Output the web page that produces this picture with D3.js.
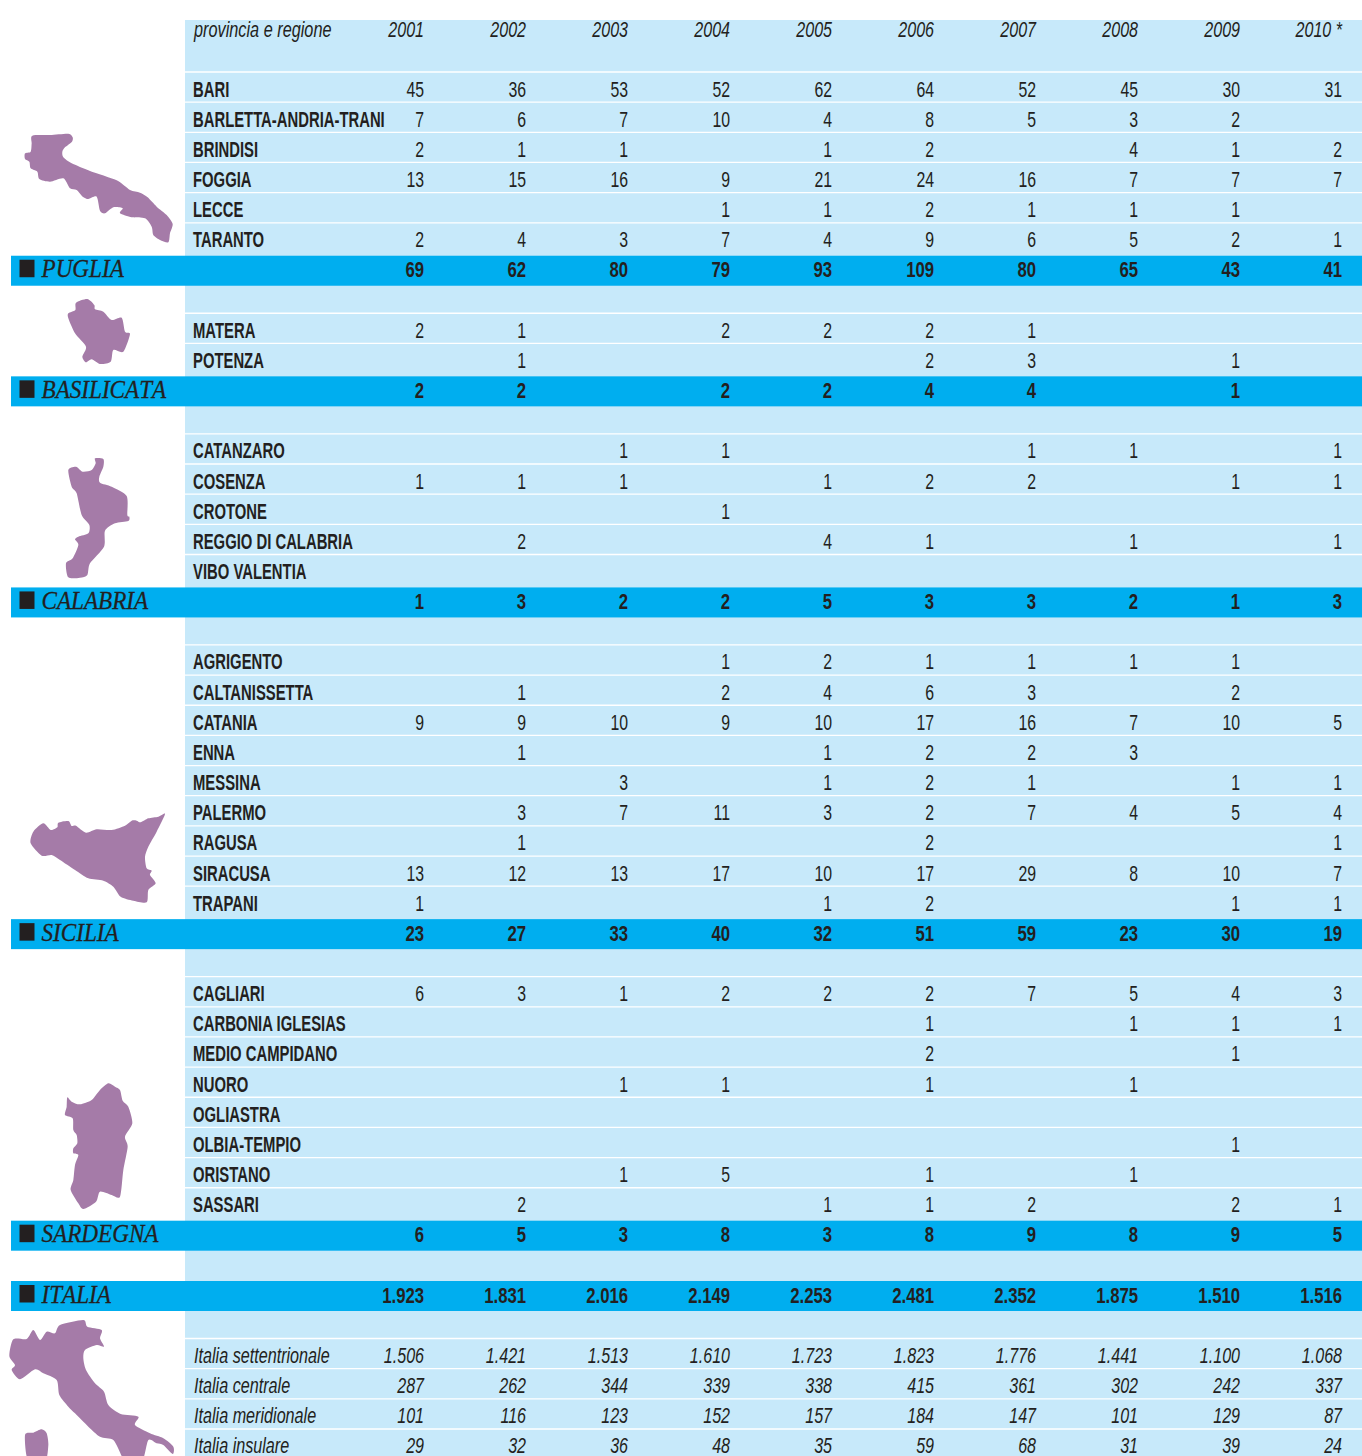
<!DOCTYPE html>
<html>
<head>
<meta charset="utf-8">
<title>Province e regioni</title>
<script src="https://cdnjs.cloudflare.com/ajax/libs/d3/7.8.5/d3.min.js"></script>
<style>
  html, body { margin: 0; padding: 0; background: #fff; }
  svg { display: block; }
  text { fill: #231f20; font-family: "Liberation Sans", Arial, sans-serif; font-size: 22px; }
  .band-label { font-family: "Liberation Serif", serif; font-style: italic; font-size: 26px; font-kerning: none; stroke: #231f20; stroke-width: 0.3px; }
</style>
</head>
<body>
<div class="chart"></div>
<script>
const _ = null;

//column headers
const years = ["2001", "2002", "2003", "2004", "2005", "2006", "2007", "2008", "2009", "2010 *"];
const headerLabel = "provincia e regione";

//Puglia
const pugliaNames = ["BARI", "BARLETTA-ANDRIA-TRANI", "BRINDISI", "FOGGIA", "LECCE", "TARANTO"];
const pugliaValues = [
  [45, 36, 53, 52, 62, 64, 52, 45, 30, 31],
  [7, 6, 7, 10, 4, 8, 5, 3, 2, _],
  [2, 1, 1, _, 1, 2, _, 4, 1, 2],
  [13, 15, 16, 9, 21, 24, 16, 7, 7, 7],
  [_, _, _, 1, 1, 2, 1, 1, 1, _],
  [2, 4, 3, 7, 4, 9, 6, 5, 2, 1]
];
const pugliaTotals = [69, 62, 80, 79, 93, 109, 80, 65, 43, 41];

//Basilicata
const basilicataNames = ["MATERA", "POTENZA"];
const basilicataValues = [
  [2, 1, _, 2, 2, 2, 1, _, _, _],
  [_, 1, _, _, _, 2, 3, _, 1, _]
];
const basilicataTotals = [2, 2, _, 2, 2, 4, 4, _, 1, _];

//Calabria
const calabriaNames = ["CATANZARO", "COSENZA", "CROTONE", "REGGIO DI CALABRIA", "VIBO VALENTIA"];
const calabriaValues = [
  [_, _, 1, 1, _, _, 1, 1, _, 1],
  [1, 1, 1, _, 1, 2, 2, _, 1, 1],
  [_, _, _, 1, _, _, _, _, _, _],
  [_, 2, _, _, 4, 1, _, 1, _, 1],
  [_, _, _, _, _, _, _, _, _, _]
];
const calabriaTotals = [1, 3, 2, 2, 5, 3, 3, 2, 1, 3];

//Sicilia
const siciliaNames = ["AGRIGENTO", "CALTANISSETTA", "CATANIA", "ENNA", "MESSINA", "PALERMO", "RAGUSA", "SIRACUSA", "TRAPANI"];
const siciliaValues = [
  [_, _, _, 1, 2, 1, 1, 1, 1, _],
  [_, 1, _, 2, 4, 6, 3, _, 2, _],
  [9, 9, 10, 9, 10, 17, 16, 7, 10, 5],
  [_, 1, _, _, 1, 2, 2, 3, _, _],
  [_, _, 3, _, 1, 2, 1, _, 1, 1],
  [_, 3, 7, 11, 3, 2, 7, 4, 5, 4],
  [_, 1, _, _, _, 2, _, _, _, 1],
  [13, 12, 13, 17, 10, 17, 29, 8, 10, 7],
  [1, _, _, _, 1, 2, _, _, 1, 1]
];
const siciliaTotals = [23, 27, 33, 40, 32, 51, 59, 23, 30, 19];

//Sardegna
const sardegnaNames = ["CAGLIARI", "CARBONIA IGLESIAS", "MEDIO CAMPIDANO", "NUORO", "OGLIASTRA", "OLBIA-TEMPIO", "ORISTANO", "SASSARI"];
const sardegnaValues = [
  [6, 3, 1, 2, 2, 2, 7, 5, 4, 3],
  [_, _, _, _, _, 1, _, 1, 1, 1],
  [_, _, _, _, _, 2, _, _, 1, _],
  [_, _, 1, 1, _, 1, _, 1, _, _],
  [_, _, _, _, _, _, _, _, _, _],
  [_, _, _, _, _, _, _, _, 1, _],
  [_, _, 1, 5, _, 1, _, 1, _, _],
  [_, 2, _, _, 1, 1, 2, _, 2, 1]
];
const sardegnaTotals = [6, 5, 3, 8, 3, 8, 9, 8, 9, 5];

//Italia
const italiaTotals = [1923, 1831, 2016, 2149, 2253, 2481, 2352, 1875, 1510, 1516];
const areaNames = ["Italia settentrionale", "Italia centrale", "Italia meridionale", "Italia insulare"];
const areaValues = [
  [1506, 1421, 1513, 1610, 1723, 1823, 1776, 1441, 1100, 1068],
  [287, 262, 344, 339, 338, 415, 361, 302, 242, 337],
  [101, 116, 123, 152, 157, 184, 147, 101, 129, 87],
  [29, 32, 36, 48, 35, 59, 68, 31, 39, 24]
];

//map outlines, traced at 3x
const pugliaOutline = [[97,407],[150,405],[205,401],[218,412],[216,425],[195,442],[187,455],[190,472],[215,490],[270,513],[350,541],[390,570],[420,578],[443,592],[470,620],[500,645],[518,672],[510,700],[505,727],[480,720],[460,705],[455,680],[435,655],[395,652],[360,640],[368,625],[340,622],[315,640],[300,632],[290,590],[265,597],[248,590],[230,570],[210,565],[190,535],[150,545],[118,537],[112,515],[92,505],[88,485],[75,477],[75,460],[92,455],[95,430]];
const basilicataOutline = [[228,38],[262,27],[283,45],[285,58],[310,65],[335,90],[365,83],[375,125],[390,132],[370,185],[340,180],[332,215],[300,222],[275,208],[258,217],[247,200],[258,170],[225,130],[205,85],[205,70],[226,60]];
const calabriaOutline = [[285,505],[310,507],[310,530],[298,560],[300,578],[335,590],[380,618],[382,675],[388,680],[385,693],[345,700],[315,722],[312,770],[270,820],[262,855],[240,863],[205,862],[198,820],[218,805],[235,765],[225,748],[235,740],[265,730],[268,705],[245,675],[230,610],[215,590],[205,540],[228,530],[248,545],[275,540],[287,520]];
const siciliaOutline = [[130,100],[152,120],[172,112],[175,98],[205,93],[215,108],[228,107],[258,128],[290,118],[335,120],[375,107],[395,92],[410,92],[422,97],[445,85],[475,80],[495,72],[470,125],[445,170],[435,200],[440,235],[455,242],[450,255],[467,280],[445,300],[440,337],[400,332],[362,320],[340,290],[310,272],[265,265],[225,240],[180,210],[155,195],[125,197],[92,160],[100,125]];
const sardegnaOutline = [[82,82],[95,95],[120,103],[155,90],[180,60],[205,40],[225,50],[240,60],[248,92],[265,110],[277,160],[255,200],[263,230],[250,300],[240,380],[215,375],[180,365],[168,395],[130,417],[115,400],[92,360],[100,330],[105,285],[115,255],[100,250],[100,235],[112,220],[110,195],[100,180],[98,145],[75,135],[80,110]];
const italiaOutline = [[250,150],[262,170],[305,180],[300,205],[312,230],[290,225],[255,240],[250,265],[258,300],[285,340],[312,365],[325,405],[362,432],[415,440],[405,465],[450,490],[490,505],[520,530],[518,552],[490,525],[470,520],[445,510],[425,575],[370,575],[365,558],[340,510],[300,500],[265,470],[225,430],[205,410],[178,375],[170,330],[130,310],[105,298],[60,328],[35,300],[45,285],[28,258],[40,208],[80,207],[100,180],[120,210],[140,185],[165,190],[180,165]];
const italiaIslandOutline = [[75,495],[100,488],[125,478],[140,490],[145,525],[135,575],[85,575]];

//SVG width and height
const fullSVGWidth = 1362;
const fullSVGHeight = 1456;

const rowHeight = 30.155;
const tableLeft = 185;
const tableTop = 20;
const bandLeft = 11;
const bandOffset = 2.8;
const bandHeight = 30;
const firstRowTop = 72;
const baselineOffset = 24.5;

const lightBlue = "#c7e9fa";
const bandBlue = "#00aeef";
const mapColor = "#a57ba8";

//build the list of rows, row index = position in the table
const rows = [];
function addRegion(title, names, values, totals) {
  names.forEach((name, i) => rows.push({ type: "province", name, values: values[i] }));
  rows.push({ type: "band", name: title, values: totals });
  rows.push({ type: "blank", name: "", values: [] });
}
addRegion("PUGLIA", pugliaNames, pugliaValues, pugliaTotals);
addRegion("BASILICATA", basilicataNames, basilicataValues, basilicataTotals);
addRegion("CALABRIA", calabriaNames, calabriaValues, calabriaTotals);
addRegion("SICILIA", siciliaNames, siciliaValues, siciliaTotals);
addRegion("SARDEGNA", sardegnaNames, sardegnaValues, sardegnaTotals);
addRegion("ITALIA", [], [], italiaTotals);
areaNames.forEach((name, i) => rows.push({ type: "area", name, values: areaValues[i] }));
rows.forEach((d, i) => (d.index = i));

//SVG
const svg = d3
  .select(".chart")
  .append("svg")
  .attr("width", fullSVGWidth)
  .attr("height", fullSVGHeight);

//scales: x = right edge of each year column, y = top of each row
const xScale = d3.scalePoint().domain(years).range([424, 1342]);
const yScale = d3
  .scaleLinear()
  .domain([0, rows.length - 1])
  .range([firstRowTop, firstRowTop + rowHeight * (rows.length - 1)]);

//numbers use the dot as thousands separator
const italian = d3.formatLocale({ decimal: ",", thousands: ".", grouping: [3], currency: ["", "€"] });
const formatValue = italian.format(",");

//table background
svg
  .append("rect")
  .attr("x", tableLeft)
  .attr("y", tableTop)
  .attr("width", fullSVGWidth - tableLeft)
  .attr("height", fullSVGHeight - tableTop)
  .attr("fill", lightBlue);

//white rules above province rows
svg
  .selectAll("line.rule")
  .data(rows.filter(d => d.type === "province" || d.type === "area"))
  .enter()
  .append("line")
  .attr("class", "rule")
  .attr("x1", tableLeft)
  .attr("x2", fullSVGWidth)
  .attr("y1", d => yScale(d.index))
  .attr("y2", d => yScale(d.index))
  .attr("stroke", "#fff")
  .attr("stroke-width", 1.3);

//region bands
const bandRows = rows.filter(d => d.type === "band");

svg
  .selectAll("rect.band")
  .data(bandRows)
  .enter()
  .append("rect")
  .attr("class", "band")
  .attr("x", bandLeft)
  .attr("y", d => yScale(d.index) + bandOffset)
  .attr("width", fullSVGWidth - bandLeft)
  .attr("height", bandHeight)
  .attr("fill", bandBlue);

svg
  .selectAll("rect.bullet")
  .data(bandRows)
  .enter()
  .append("rect")
  .attr("class", "bullet")
  .attr("x", 19.5)
  .attr("y", d => yScale(d.index) + bandOffset + 4)
  .attr("width", 15)
  .attr("height", 17.5)
  .attr("fill", "#231f20");

svg
  .selectAll("text.band-label")
  .data(bandRows)
  .enter()
  .append("text")
  .attr("class", "band-label")
  .attr("transform", d => "translate(41.5," + (yScale(d.index) + baselineOffset) + ") scale(0.89,1)")
  .text(d => d.name);

//province names
svg
  .selectAll("text.province")
  .data(rows.filter(d => d.type === "province"))
  .enter()
  .append("text")
  .attr("class", "province")
  .attr("transform", d => "translate(193," + (yScale(d.index) + baselineOffset) + ") scale(0.675,1)")
  .style("font-weight", "bold")
  .text(d => d.name);

//area names, italic
svg
  .selectAll("text.area")
  .data(rows.filter(d => d.type === "area"))
  .enter()
  .append("text")
  .attr("class", "area")
  .attr("transform", d => "translate(194," + (yScale(d.index) + baselineOffset) + ") scale(0.735,1)")
  .style("font-style", "italic")
  .text(d => d.name);

//cell values
const cells = rows.flatMap(row =>
  row.values
    .map((value, i) => ({ row, value, year: years[i] }))
    .filter(d => d.value !== null)
);

const cellScale = { province: 0.72, band: 0.76, area: 0.73 };

svg
  .selectAll("text.value")
  .data(cells)
  .enter()
  .append("text")
  .attr("class", "value")
  .attr("transform", d =>
    "translate(" + xScale(d.year) + "," + (yScale(d.row.index) + baselineOffset) + ") scale(" + cellScale[d.row.type] + ",1)"
  )
  .attr("text-anchor", "end")
  .style("font-weight", d => (d.row.type === "band" ? "bold" : "normal"))
  .style("font-style", d => (d.row.type === "area" ? "italic" : "normal"))
  .text(d => formatValue(d.value));

//header row
svg
  .append("text")
  .attr("transform", "translate(194,37) scale(0.74,1)")
  .style("font-style", "italic")
  .text(headerLabel);

svg
  .selectAll("text.year")
  .data(years)
  .enter()
  .append("text")
  .attr("class", "year")
  .attr("transform", d => "translate(" + xScale(d) + ",37) scale(0.73,1)")
  .attr("text-anchor", "end")
  .style("font-style", "italic")
  .text(d => d);

//maps
const mapLine = d3.line().curve(d3.curveCardinalClosed.tension(0.25));
const maps = [
  { outline: pugliaOutline, ox: 0, oy: 0 },
  { outline: basilicataOutline, ox: 0, oy: 290 },
  { outline: calabriaOutline, ox: 0, oy: 290 },
  { outline: siciliaOutline, ox: 0, oy: 790 },
  { outline: sardegnaOutline, ox: 40, oy: 1070 },
  { outline: italiaOutline, ox: 0, oy: 1270 },
  { outline: italiaIslandOutline, ox: 0, oy: 1270 }
];

svg
  .selectAll("path.map")
  .data(maps)
  .enter()
  .append("path")
  .attr("class", "map")
  .attr("d", d => mapLine(d.outline.map(p => [d.ox + p[0] / 3, d.oy + p[1] / 3])))
  .attr("fill", mapColor);
</script>
</body>
</html>
